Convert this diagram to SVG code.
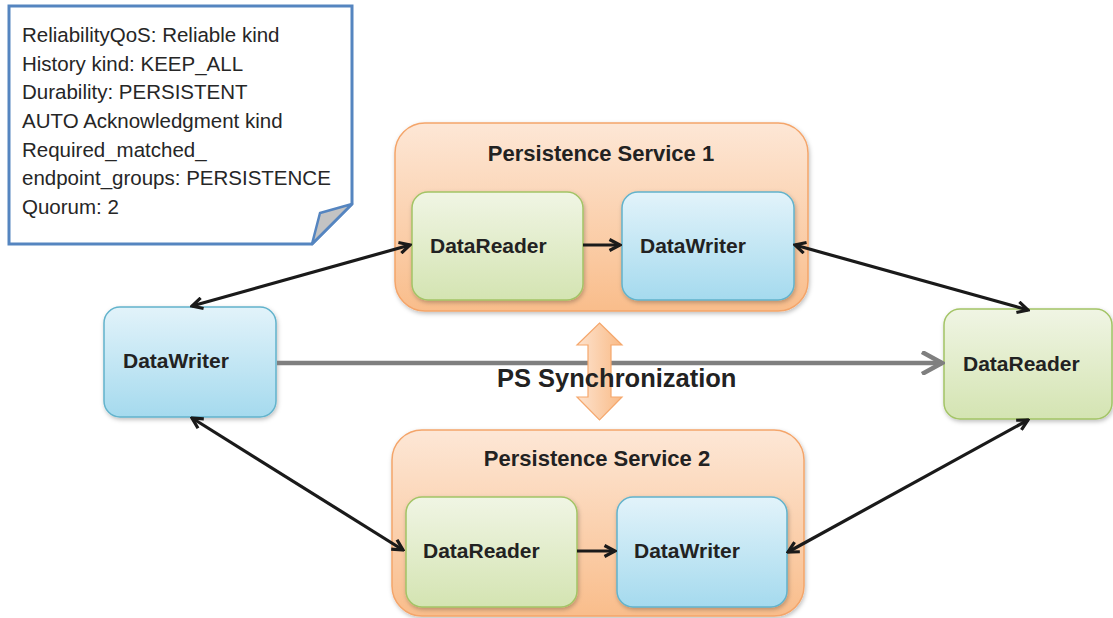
<svg xmlns="http://www.w3.org/2000/svg" width="1113" height="618" viewBox="0 0 1113 618">
<defs>
<linearGradient id="gPS" x1="0" y1="0" x2="0" y2="1"><stop offset="0" stop-color="#fde7d6"/><stop offset="1" stop-color="#f9bd8b"/></linearGradient>
<linearGradient id="gGreen" x1="0" y1="0" x2="0" y2="1"><stop offset="0" stop-color="#f0f5e4"/><stop offset="1" stop-color="#d4e4b2"/></linearGradient>
<linearGradient id="gBlue" x1="0" y1="0" x2="0" y2="1"><stop offset="0" stop-color="#e2f3fa"/><stop offset="1" stop-color="#a5daee"/></linearGradient>
<linearGradient id="gSync" x1="0" y1="0" x2="1" y2="0"><stop offset="0" stop-color="#fde3cf"/><stop offset="1" stop-color="#f9bb87"/></linearGradient>
<filter id="sh" x="-10%" y="-10%" width="130%" height="130%"><feDropShadow dx="1" dy="2" stdDeviation="2" flood-color="#000" flood-opacity="0.25"/></filter>
<marker id="ah" viewBox="0 0 14 14" refX="12" refY="7" markerWidth="14" markerHeight="14" markerUnits="userSpaceOnUse" orient="auto-start-reverse"><path d="M1.5,1.5 L12,7 L1.5,12.5" fill="none" stroke="#1a1a1a" stroke-width="3.2" stroke-linejoin="miter"/></marker>
<marker id="ahg" viewBox="0 0 24 24" refX="21" refY="12" markerWidth="24" markerHeight="24" markerUnits="userSpaceOnUse" orient="auto"><path d="M1,1 L21,12 L1,23" fill="none" stroke="#7f7f7f" stroke-width="4.5"/></marker>
</defs>
<style>
.ps{fill:url(#gPS);stroke:#f4a56a;stroke-width:1.5}
.gr{fill:url(#gGreen);stroke:#a3c466;stroke-width:1.5}
.bl{fill:url(#gBlue);stroke:#62b3cc;stroke-width:1.5}
.lbl{font-family:"Liberation Sans",Arial,sans-serif;font-weight:bold;font-size:21px;fill:#222222}
.ttl{font-family:"Liberation Sans",Arial,sans-serif;font-weight:bold;font-size:22px;fill:#222222}
.note{font-family:"Liberation Sans",Arial,sans-serif;font-size:20.5px;fill:#262626}
.blk{stroke:#1a1a1a;stroke-width:3.2;fill:none}
</style>
<rect width="1113" height="618" fill="#ffffff"/>

<g id="callout">
<path d="M9,6 H352 V204 L312,244 H9 Z" fill="#ffffff" stroke="#5585c0" stroke-width="3"/>
<path d="M352,204 L320,213 L312,244 Z" fill="#c3c3c3" stroke="#5585c0" stroke-width="2.5" stroke-linejoin="round"/>
<text class="note" x="22" y="42">ReliabilityQoS: Reliable kind</text>
<text class="note" x="22" y="70.5">History kind: KEEP_ALL</text>
<text class="note" x="22" y="99">Durability: PERSISTENT</text>
<text class="note" x="22" y="128">AUTO Acknowledgment kind</text>
<text class="note" x="22" y="156.5">Required_matched_</text>
<text class="note" x="22" y="185">endpoint_groups: PERSISTENCE</text>
<text class="note" x="22" y="213.5">Quorum: 2</text>
</g>

<g id="ps1">
<rect class="ps" x="395" y="123" width="413" height="188" rx="30" filter="url(#sh)"/>
<text class="ttl" x="601" y="161" text-anchor="middle">Persistence Service 1</text>
</g>
<g id="ps1-reader">
<rect class="gr" x="412" y="192" width="171" height="108" rx="16" filter="url(#sh)"/>
<text class="lbl" x="430" y="253">DataReader</text>
</g>
<g id="ps1-writer">
<rect class="bl" x="622" y="192" width="172" height="108" rx="16" filter="url(#sh)"/>
<text class="lbl" x="640" y="253">DataWriter</text>
</g>

<g id="ps2">
<rect class="ps" x="392" y="430" width="412" height="186" rx="30" filter="url(#sh)"/>
<text class="ttl" x="597" y="466" text-anchor="middle">Persistence Service 2</text>
</g>
<g id="ps2-reader">
<rect class="gr" x="406" y="497" width="171" height="110" rx="16" filter="url(#sh)"/>
<text class="lbl" x="423" y="558">DataReader</text>
</g>
<g id="ps2-writer">
<rect class="bl" x="617" y="497" width="170" height="110" rx="16" filter="url(#sh)"/>
<text class="lbl" x="634" y="558">DataWriter</text>
</g>

<g id="writer">
<rect class="bl" x="104" y="307" width="172" height="110" rx="16" filter="url(#sh)"/>
<text class="lbl" x="123" y="368">DataWriter</text>
</g>
<g id="reader">
<rect class="gr" x="944" y="309" width="168" height="110" rx="16" filter="url(#sh)"/>
<text class="lbl" x="963" y="371">DataReader</text>
</g>

<g id="connectors">
<line x1="277" y1="363" x2="942" y2="363" stroke="#7f7f7f" stroke-width="4.5" marker-end="url(#ahg)"/>
<line class="blk" x1="192" y1="306" x2="410" y2="245" marker-start="url(#ah)" marker-end="url(#ah)"/>
<line class="blk" x1="795" y1="245" x2="1028" y2="310" marker-start="url(#ah)" marker-end="url(#ah)"/>
<line class="blk" x1="192" y1="418" x2="403" y2="550" marker-start="url(#ah)" marker-end="url(#ah)"/>
<line class="blk" x1="1028" y1="420" x2="788" y2="552" marker-start="url(#ah)" marker-end="url(#ah)"/>
<line class="blk" x1="583" y1="245" x2="620" y2="245" marker-end="url(#ah)"/>
<line class="blk" x1="577" y1="551" x2="615" y2="551" marker-end="url(#ah)"/>
<path id="sync-arrow" d="M599.5,323 L622,345 L611,345 L611,397 L622,397 L599.5,420 L577,397 L588,397 L588,345 L577,345 Z" fill="url(#gSync)" stroke="#f5a76c" stroke-width="1.2" stroke-linejoin="miter"/>
<text x="497" y="387" font-family="Liberation Sans, Arial, sans-serif" font-weight="bold" font-size="25.5" fill="#222222">PS Synchronization</text>
</g>
</svg>
